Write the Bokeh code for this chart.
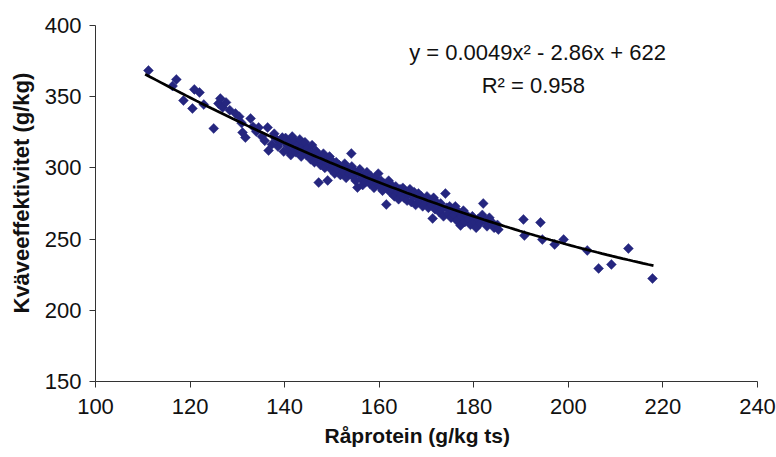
import numpy as np
from bokeh.plotting import figure
from bokeh.models import FixedTicker, Label, ColumnDataSource, Title
from bokeh.embed import file_html
from bokeh.resources import INLINE

# ---- data ----
protein = [
    111.2, 117.1, 116.3, 118.6, 120.5, 120.9, 122.0, 122.9, 125.0, 126.0, 126.4, 126.9,
    127.6, 128.4, 129.6, 130.4, 130.9, 131.1, 131.7, 132.8, 133.3, 134.0, 134.5, 135.2,
    135.8, 136.4, 136.6, 137.3, 137.8, 138.1, 138.6, 139.0, 139.5, 139.8,
    140.2, 140.5, 140.8, 141.0, 141.3, 141.6, 141.9, 142.2, 142.4, 142.7, 143.0, 143.2,
    143.5, 143.8, 144.1, 144.3, 144.6, 144.9, 145.2, 145.5, 145.8, 146.0, 146.3, 146.6,
    146.9, 147.2, 147.3, 147.6, 147.9, 148.2, 148.5, 148.8, 149.1, 149.2, 149.5, 149.8, 150.0,
    150.3, 150.6, 150.9, 151.2, 151.5, 151.8, 152.1, 152.4, 152.7, 153.0, 153.3, 153.6,
    154.1, 154.2, 154.4, 154.7, 155.0, 155.4, 155.6, 155.9, 156.2, 156.5, 156.8, 157.1,
    157.4, 157.7, 158.0, 158.3, 158.6, 158.9, 159.2, 159.5, 159.8, 160.1, 160.4, 160.7,
    161.0, 161.5, 161.7, 162.0, 162.3, 162.6, 162.9, 163.2, 163.5, 163.8, 164.1, 164.4,
    164.7, 165.0,
    165.3, 165.6, 165.9, 166.2, 166.5, 166.8, 167.1, 167.4, 167.7, 168.0, 168.3, 168.6,
    168.9, 169.2, 169.5, 169.8, 170.1, 170.4, 170.7, 171.0, 171.3, 171.5, 171.8, 172.1,
    172.4, 172.7, 173.0, 173.3, 173.6, 174.0, 174.3, 174.6, 174.9, 175.2, 175.5, 175.8,
    176.1, 176.4, 176.8, 177.2, 177.4, 177.8, 178.1, 178.5, 178.9, 179.3, 179.7, 180.1,
    180.5, 180.9, 181.3, 181.8, 182.0, 182.4, 182.8, 183.3, 183.8, 184.3, 185.0, 185.2,
    190.5, 190.7, 194.1, 194.5, 197.1, 199.0, 204.0, 206.4, 209.1, 212.7, 217.8,
]
efficiency = [
    368.4, 362.1, 357.5, 347.3, 341.7, 355.1, 353.0, 344.5, 327.7, 345.2, 348.7, 342.4,
    346.0, 340.5, 338.2, 336.0, 331.5, 324.9, 321.3, 334.7, 329.0, 325.5, 328.4, 322.0,
    319.0, 328.4, 312.2, 316.5, 324.0, 320.6, 315.0, 318.0, 321.3, 311.5,
    321, 316, 312, 318, 309, 322, 315, 319, 311, 316, 313, 320,
    308, 315, 312, 318, 309, 314, 311, 306, 316, 310, 304, 312,
    307, 289.7, 309, 302, 306, 310, 300, 305, 291.2, 303, 308, 299, 305,
    301, 296, 304, 299, 302, 295, 300, 297, 303, 293, 299, 296,
    310.1, 301, 294, 298, 291, 286.2, 296, 299, 292, 288, 295, 290,
    297, 293, 289, 294, 291, 286, 293, 289, 296, 287, 291, 284,
    289, 274.3, 286, 291, 283, 288, 285, 280, 287, 283, 278, 285,
    281, 286,
    279, 283, 277, 282, 285, 276, 280, 283, 274, 279, 282, 276,
    280, 273, 278, 275, 280, 272, 277, 274, 264.5, 279, 271, 276,
    273, 269, 275, 271, 266, 282.0, 272, 268, 273, 265, 270, 267,
    273, 263, 269, 259.6, 266, 270, 262, 267, 264, 260, 266, 262,
    258, 264, 261, 267, 275.0, 263, 259, 265, 262, 258, 260, 256.7,
    263.8, 252.5, 261.7, 249.7, 246.2, 249.7, 242.0, 229.4, 232.2, 243.4, 222.3,
]
trend_coef = [0.0049, -2.86, 622]      # y = a x^2 + b x + c (as printed on the chart)
trend_x_range = [110.5, 218.0]
r_squared = 0.958
x_ticks = [100, 120, 140, 160, 180, 200, 220, 240]
y_ticks = [150, 200, 250, 300, 350, 400]
x_title = "Råprotein (g/kg ts)"
y_title = "Kväveeffektivitet (g/kg)"

# ---- figure ----
p = figure(width=776, height=457, x_range=(100, 240), y_range=(150, 400),
           output_backend="svg", toolbar_location=None,
           min_border_left=95, min_border_right=19, min_border_top=25, min_border_bottom=76)
p.xgrid.visible = False
p.ygrid.visible = False
p.outline_line_color = None
p.background_fill_color = "white"
p.border_fill_color = "white"

src = ColumnDataSource(dict(x=protein, y=efficiency))
p.scatter("x", "y", source=src, marker="square", angle=np.pi / 4, size=7,
          fill_color="#25267F", line_color="#25267F", line_width=0.5)

tx = np.linspace(trend_x_range[0], trend_x_range[1], 100)
ty = trend_coef[0] * tx ** 2 + trend_coef[1] * tx + trend_coef[2]
p.line(tx, ty, line_color="black", line_width=2.7)

for ax in (p.xaxis, p.yaxis):
    ax.axis_line_color = "#333333"
    ax.axis_line_width = 1
    ax.major_tick_line_color = "#333333"
    ax.major_tick_in = 0
    ax.major_tick_out = 6
    ax.minor_tick_line_color = None
    ax.major_label_text_font = "Liberation Sans"
    ax.major_label_text_font_size = "22px"
    ax.major_label_text_color = "#111111"

p.xaxis.ticker = FixedTicker(ticks=x_ticks)
p.yaxis.ticker = FixedTicker(ticks=y_ticks)
p.xaxis.major_label_standoff = 11
p.yaxis.major_label_standoff = 8

# axis titles, positioned along the axis as in the reference
p.add_layout(Title(text=x_title, align="left", offset=229, standoff=10,
                   text_font="Liberation Sans", text_font_size="21px", text_font_style="bold",
                   text_color="#111111"), "below")
p.add_layout(Title(text=y_title, align="left", offset=68, standoff=12, vertical_align="top",
                   text_font="Liberation Sans", text_font_size="22px", text_font_style="bold",
                   text_color="#111111"), "left")

eq_text = "y = %.4gx² - %.2fx + %d" % (trend_coef[0], -trend_coef[1], trend_coef[2])
p.add_layout(Label(x=193.5, y=381, text=eq_text, text_align="center", text_baseline="middle",
                   text_font="Liberation Sans", text_font_size="22px", text_color="#111111"))
p.add_layout(Label(x=192.6, y=358, text="R² = %.3f" % r_squared, text_align="center",
                   text_baseline="middle", text_font="Liberation Sans", text_font_size="22px",
                   text_color="#111111"))

open("out.html", "w").write(file_html(p, INLINE))
